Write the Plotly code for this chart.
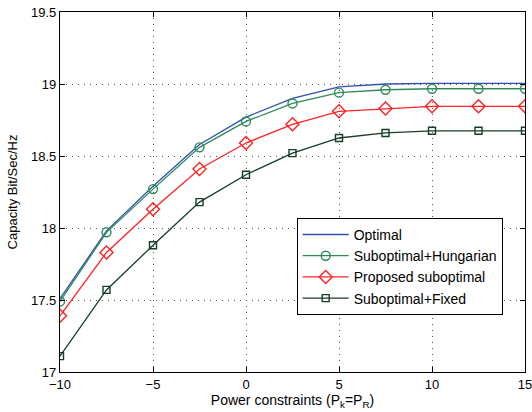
import plotly.graph_objects as go

x_vals = [-10, -7.5, -5, -2.5, 0, 2.5, 5, 7.5, 10, 12.5, 15]
optimal = [17.51, 17.98, 18.29, 18.58, 18.77, 18.90, 18.98, 19.00, 19.005, 19.005, 19.005]
hungarian = [17.49, 17.97, 18.27, 18.56, 18.74, 18.865, 18.94, 18.96, 18.967, 18.967, 18.967]
proposed = [17.39, 17.83, 18.13, 18.41, 18.59, 18.72, 18.81, 18.83, 18.845, 18.845, 18.845]
fixed = [17.11, 17.57, 17.88, 18.18, 18.37, 18.52, 18.625, 18.66, 18.675, 18.675, 18.675]

series = [
    ("Optimal", optimal, "#2f4fb0", None, 0),
    ("Suboptimal+Hungarian", hungarian, "#2e8b57", "circle-open", 9),
    ("Proposed suboptimal", proposed, "#ff2222", "diamond-open", 10),
    ("Suboptimal+Fixed", fixed, "#173d28", "square-open", 7),
]

fig = go.Figure()
for name, ys, color, sym, size in series:
    if sym is None:
        fig.add_trace(go.Scatter(x=x_vals, y=ys, name=name, mode="lines",
                                 line=dict(color=color, width=1.3)))
    else:
        fig.add_trace(go.Scatter(x=x_vals, y=ys, name=name, mode="lines+markers",
                                 line=dict(color=color, width=1.3),
                                 marker=dict(symbol=sym, size=size,
                                             line=dict(color=color, width=1.4))))

axis_common = dict(
    showline=True, linecolor="black", linewidth=1.2, mirror="ticks",
    ticks="inside", ticklen=5, tickcolor="black", automargin=False,
    ticklabeloverflow="allow",
    showgrid=True, gridcolor="#555555", griddash="1px,5px", gridwidth=1,
    zeroline=False, tickfont=dict(size=13, color="black"),
)

fig.update_layout(
    width=532, height=412,
    margin=dict(l=60, r=7, t=12, b=40),
    paper_bgcolor="white", plot_bgcolor="white",
    font=dict(family="Liberation Sans, Arial, sans-serif", size=13, color="black"),
    xaxis=dict(range=[-10, 15], tickvals=[-10, -5, 0, 5, 10, 15],
               title=dict(text="Power constraints (P<sub>k</sub>=P<sub>R</sub>)",
                          standoff=2, font=dict(size=14)),
               **axis_common),
    yaxis=dict(range=[17, 19.5], tickvals=[17, 17.5, 18, 18.5, 19, 19.5],
               ticktext=["17", "17.5", "18", "18.5", "19", "19.5"],
               title=dict(text="Capacity Bit/Sec/Hz", standoff=10, font=dict(size=13)),
               **axis_common),
    legend=dict(x=0.509, y=0.428, xanchor="left", yanchor="top",
                bgcolor="white", bordercolor="black", borderwidth=1,
                font=dict(size=14), tracegroupgap=0, itemwidth=46),
    showlegend=True,
)

fig.write_html("out.html", config={"displayModeBar": False},
               post_script="document.body.style.margin='0px';")
